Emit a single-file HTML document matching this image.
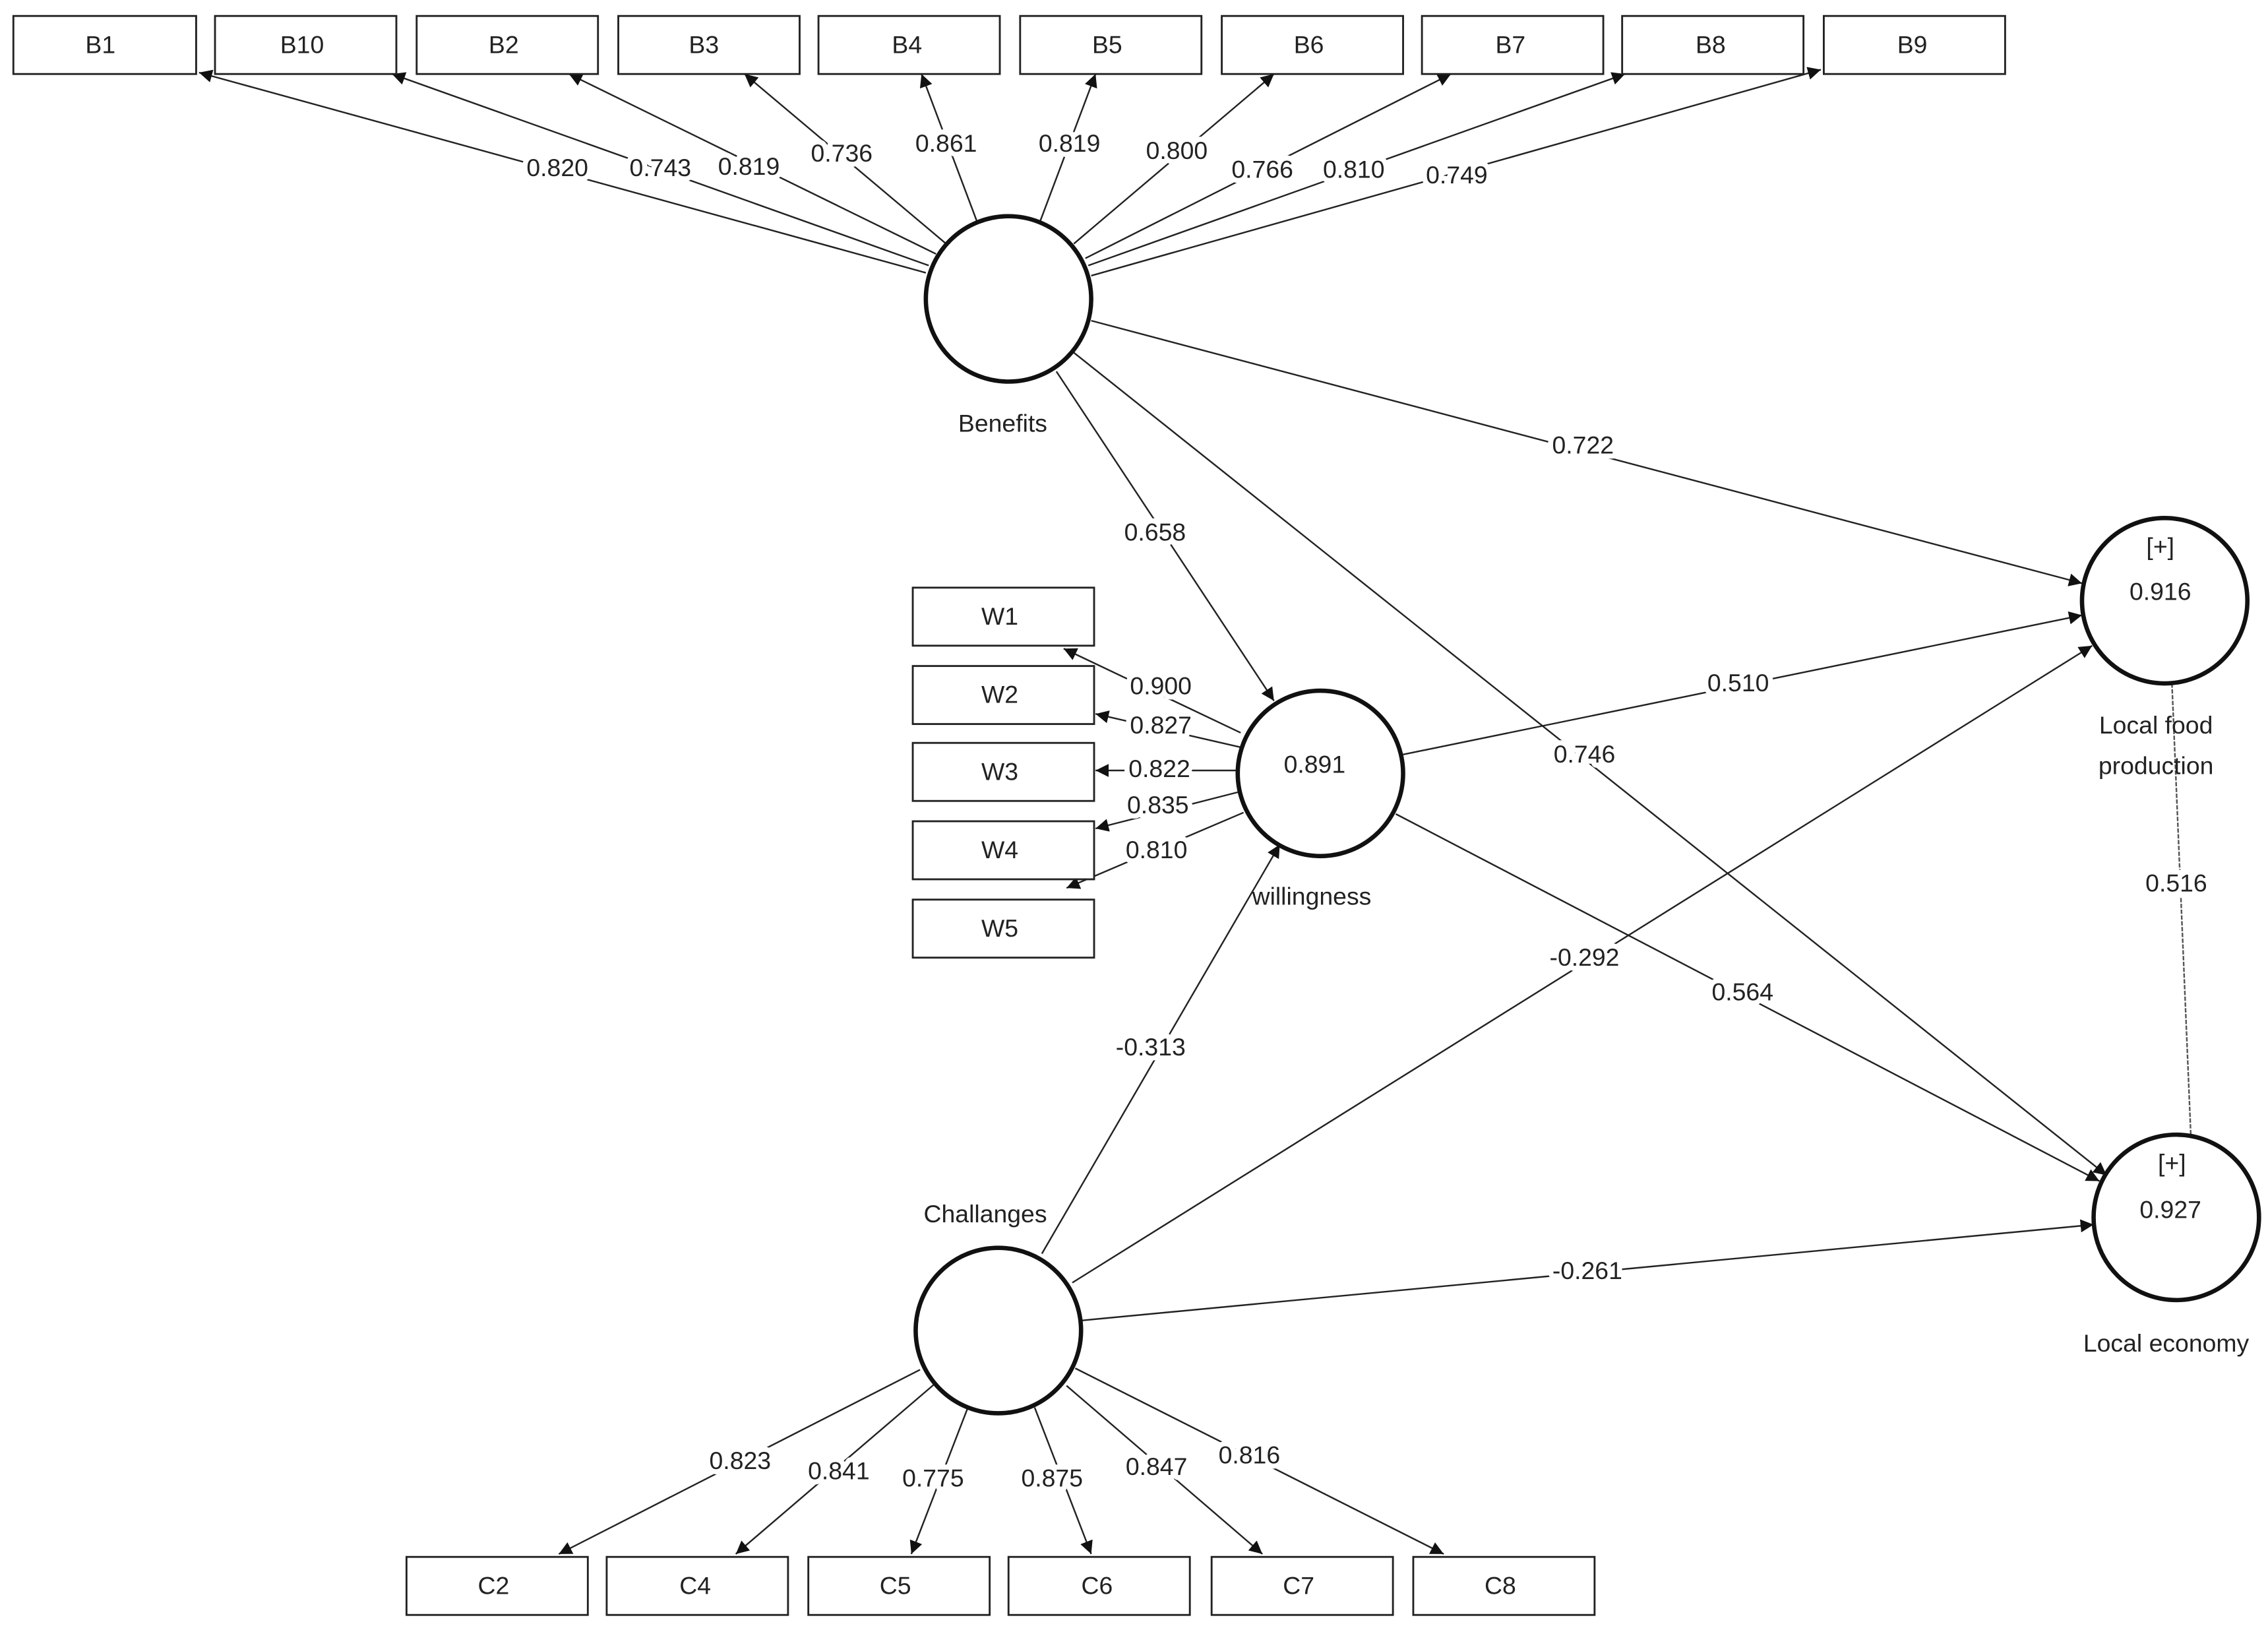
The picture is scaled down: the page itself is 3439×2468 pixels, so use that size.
<!DOCTYPE html>
<html><head><meta charset="utf-8"><style>
html,body{margin:0;padding:0;background:#fff;}
svg{display:block;}
text{font-family:"Liberation Sans",sans-serif;font-size:17px;fill:#222;text-anchor:middle;dominant-baseline:middle;}
.l{stroke:#fff;stroke-width:7px;paint-order:stroke;stroke-linejoin:round;}
line{stroke:#222;stroke-width:1.1;}
rect{fill:#fff;stroke:#222;stroke-width:1.3;}
circle{fill:#fff;stroke:#111;stroke-width:3;}
</style></head><body>
<svg width="3439" height="2468" viewBox="0 0 1563 1122" xmlns="http://www.w3.org/2000/svg">
<defs><marker id="a" viewBox="0 0 10 10" refX="10" refY="5" markerWidth="9" markerHeight="9" markerUnits="userSpaceOnUse" orient="auto"><path d="M0,0L10,5L0,10z" fill="#111"/></marker></defs>
<g marker-end="url(#a)">
<line x1="638" y1="188" x2="137" y2="50"/>
<line x1="640" y1="183" x2="270" y2="51"/>
<line x1="645" y1="175" x2="392" y2="51"/>
<line x1="652" y1="168" x2="513" y2="51"/>
<line x1="673" y1="152" x2="635" y2="51"/>
<line x1="717" y1="152" x2="755" y2="51"/>
<line x1="740" y1="168" x2="878" y2="51"/>
<line x1="748" y1="178" x2="1000" y2="51"/>
<line x1="750" y1="183" x2="1120" y2="51"/>
<line x1="752" y1="190" x2="1255" y2="48"/>
<line x1="855" y1="505" x2="733" y2="447"/>
<line x1="855" y1="515" x2="755" y2="492"/>
<line x1="852" y1="531" x2="755" y2="531"/>
<line x1="853" y1="546" x2="755" y2="571"/>
<line x1="857" y1="560" x2="735" y2="612"/>
<line x1="634" y1="944" x2="385" y2="1071"/>
<line x1="645" y1="953" x2="507" y2="1071"/>
<line x1="667" y1="970" x2="628" y2="1071"/>
<line x1="713" y1="970" x2="752" y2="1071"/>
<line x1="735" y1="955" x2="870" y2="1071"/>
<line x1="741" y1="943" x2="995" y2="1071"/>
<line x1="752" y1="221" x2="1435" y2="402"/>
<line x1="728" y1="256" x2="878" y2="483"/>
<line x1="740" y1="243" x2="1452" y2="810"/>
<line x1="967" y1="520" x2="1435" y2="424"/>
<line x1="962" y1="561" x2="1447" y2="814"/>
<line x1="718" y1="864" x2="882" y2="582"/>
<line x1="739" y1="884" x2="1442" y2="445"/>
<line x1="746" y1="910" x2="1443" y2="844"/>
</g>
<line x1="1497" y1="471" x2="1510" y2="782" style="stroke:#555;stroke-dasharray:3 1"/>
<g>
<rect x="9" y="11" width="126" height="40"/><text x="69" y="32">B1</text>
<rect x="148" y="11" width="125" height="40"/><text x="208" y="32">B10</text>
<rect x="287" y="11" width="125" height="40"/><text x="347" y="32">B2</text>
<rect x="426" y="11" width="125" height="40"/><text x="485" y="32">B3</text>
<rect x="564" y="11" width="125" height="40"/><text x="625" y="32">B4</text>
<rect x="703" y="11" width="125" height="40"/><text x="763" y="32">B5</text>
<rect x="842" y="11" width="125" height="40"/><text x="902" y="32">B6</text>
<rect x="980" y="11" width="125" height="40"/><text x="1041" y="32">B7</text>
<rect x="1118" y="11" width="125" height="40"/><text x="1179" y="32">B8</text>
<rect x="1257" y="11" width="125" height="40"/><text x="1318" y="32">B9</text>
<rect x="629" y="405" width="125" height="40"/><text x="689" y="426">W1</text>
<rect x="629" y="459" width="125" height="40"/><text x="689" y="480">W2</text>
<rect x="629" y="512" width="125" height="40"/><text x="689" y="533">W3</text>
<rect x="629" y="566" width="125" height="40"/><text x="689" y="587">W4</text>
<rect x="629" y="620" width="125" height="40"/><text x="689" y="641">W5</text>
<rect x="280" y="1073" width="125" height="40"/><text x="340" y="1094">C2</text>
<rect x="418" y="1073" width="125" height="40"/><text x="479" y="1094">C4</text>
<rect x="557" y="1073" width="125" height="40"/><text x="617" y="1094">C5</text>
<rect x="695" y="1073" width="125" height="40"/><text x="756" y="1094">C6</text>
<rect x="835" y="1073" width="125" height="40"/><text x="895" y="1094">C7</text>
<rect x="974" y="1073" width="125" height="40"/><text x="1034" y="1094">C8</text>
</g>
<circle cx="695" cy="206" r="57"/>
<circle cx="910" cy="533" r="57"/>
<circle cx="1492" cy="414" r="57"/>
<circle cx="1500" cy="839" r="57"/>
<circle cx="688" cy="917" r="57"/>
<text x="691" y="293">Benefits</text>
<text x="906" y="528">0.891</text>
<text x="904" y="619">willingness</text>
<text x="1489" y="378">[+]</text><text x="1489" y="409">0.916</text>
<text x="1486" y="501">Local food</text><text x="1486" y="529">production</text>
<text x="1497" y="803">[+]</text><text x="1496" y="835">0.927</text>
<text x="1493" y="927">Local economy</text>
<text x="679" y="838">Challanges</text>
<g class="l">
<text class="l" x="384" y="117">0.820</text>
<text class="l" x="455" y="117">0.743</text>
<text class="l" x="516" y="116">0.819</text>
<text class="l" x="580" y="107">0.736</text>
<text class="l" x="652" y="100">0.861</text>
<text class="l" x="737" y="100">0.819</text>
<text class="l" x="811" y="105">0.800</text>
<text class="l" x="870" y="118">0.766</text>
<text class="l" x="933" y="118">0.810</text>
<text class="l" x="1004" y="122">0.749</text>
<text class="l" x="800" y="474">0.900</text>
<text class="l" x="800" y="501">0.827</text>
<text class="l" x="799" y="531">0.822</text>
<text class="l" x="798" y="556">0.835</text>
<text class="l" x="797" y="587">0.810</text>
<text class="l" x="510" y="1008">0.823</text>
<text class="l" x="578" y="1015">0.841</text>
<text class="l" x="643" y="1020">0.775</text>
<text class="l" x="725" y="1020">0.875</text>
<text class="l" x="797" y="1012">0.847</text>
<text class="l" x="861" y="1004">0.816</text>
<text class="l" x="1091" y="308">0.722</text>
<text class="l" x="796" y="368">0.658</text>
<text class="l" x="1092" y="521">0.746</text>
<text class="l" x="1198" y="472">0.510</text>
<text class="l" x="1201" y="685">0.564</text>
<text class="l" x="793" y="723">-0.313</text>
<text class="l" x="1092" y="661">-0.292</text>
<text class="l" x="1094" y="877">-0.261</text>
<text class="l" x="1500" y="610">0.516</text>
</g>
</svg>
</body></html>
